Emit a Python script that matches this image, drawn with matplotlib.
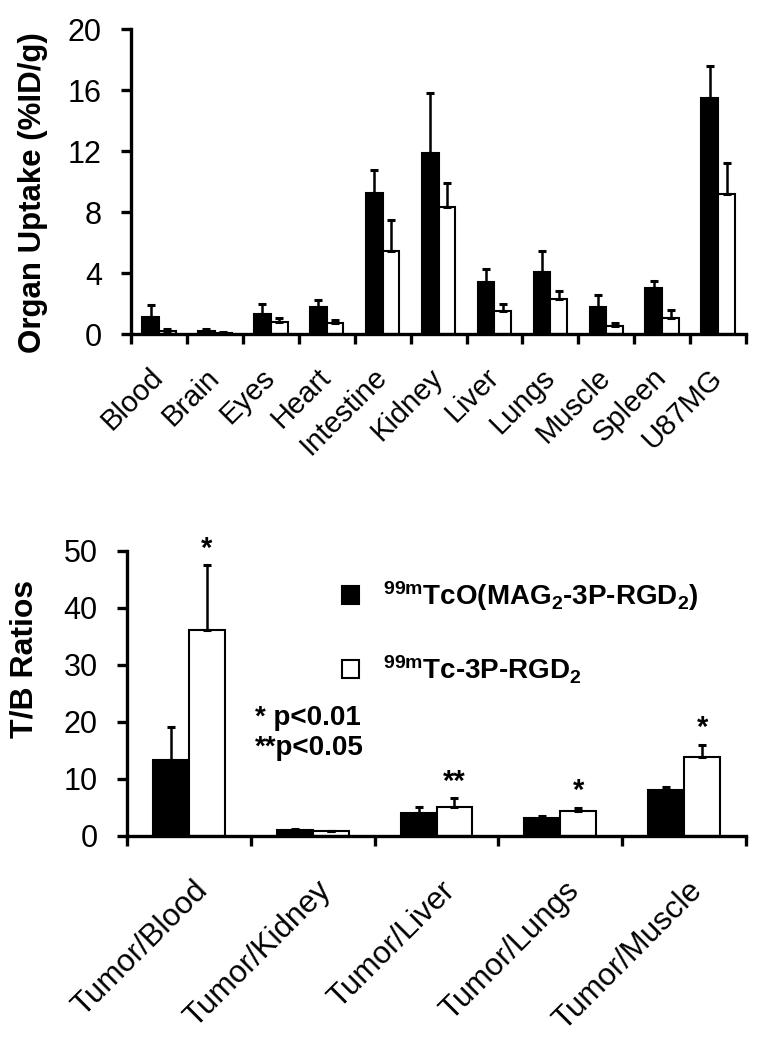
import matplotlib
matplotlib.use("Agg")
import matplotlib.pyplot as plt
import matplotlib.transforms as mtransforms
import numpy as np

plt.rcParams["font.family"] = ["Liberation Sans", "DejaVu Sans"]
plt.rcParams["mathtext.fontset"] = "custom"
plt.rcParams["mathtext.rm"] = "Liberation Sans:bold"
plt.rcParams["mathtext.bf"] = "Liberation Sans:bold"
plt.rcParams["mathtext.it"] = "Liberation Sans:bold"
plt.rcParams["mathtext.default"] = "bf"

# Organ biodistribution (%ID/g)
organs = ["Blood", "Brain", "Eyes", "Heart", "Intestine", "Kidney",
          "Liver", "Lungs", "Muscle", "Spleen", "U87MG"]
mag2_uptake = [1.1, 0.2, 1.3, 1.8, 9.25, 11.85, 3.4, 4.1, 1.75, 3.0, 15.45]
mag2_uptake_sd = [0.8, 0.1, 0.7, 0.4, 1.5, 3.95, 0.85, 1.35, 0.8, 0.5, 2.15]
p3_uptake = [0.2, 0.1, 0.8, 0.75, 5.45, 8.3, 1.5, 2.3, 0.55, 1.05, 9.2]
p3_uptake_sd = [0.1, 0.05, 0.25, 0.15, 2.0, 1.6, 0.5, 0.5, 0.2, 0.5, 2.0]

# Tumor/background ratios
ratios = ["Tumor/Blood", "Tumor/Kidney", "Tumor/Liver", "Tumor/Lungs", "Tumor/Muscle"]
mag2_ratio = [13.3, 1.0, 4.1, 3.1, 8.0]
mag2_ratio_sd = [5.8, 0.25, 0.9, 0.45, 0.6]
p3_ratio = [36.1, 0.8, 5.0, 4.3, 13.9]
p3_ratio_sd = [11.4, 0.1, 1.6, 0.6, 2.1]
ratio_marks = ["*", "", "**", "*", "*"]

legend_labels = [r"$^{99m}$TcO(MAG$_2$-3P-RGD$_2$)", r"$^{99m}$Tc-3P-RGD$_2$"]

fig = plt.figure(figsize=(7.59, 10.39), dpi=100)
ax1 = fig.add_axes([0.1726, 0.6785, 0.8104, 0.2935])
ax2 = fig.add_axes([0.1673, 0.1954, 0.8157, 0.2743])

err_kw = dict(capsize=3, capthick=2.2, elinewidth=1.8, ecolor="black")


def style_axes(ax):
    for side in ["top", "right"]:
        ax.spines[side].set_visible(False)
    for side in ["left", "bottom"]:
        ax.spines[side].set_linewidth(2.4)
    ax.tick_params(axis="both", which="major", direction="out", length=7,
                   width=2.4, labelsize=22)
    ax.tick_params(axis="y", pad=14)


# ---- top panel ----
n = len(organs)
x = np.arange(n) + 0.5
w = 0.3
lo = np.zeros(n)
ax1.bar(x - w / 2, mag2_uptake, w, color="black", edgecolor="black", linewidth=1.5,
        yerr=[lo, mag2_uptake_sd], error_kw=err_kw)
ax1.bar(x + w / 2, p3_uptake, w, color="white", edgecolor="black", linewidth=1.5,
        yerr=[lo, p3_uptake_sd], error_kw=err_kw)
ax1.set_xlim(0, n)
ax1.set_ylim(0, 20)
ax1.set_yticks([0, 4, 8, 12, 16, 20])
ax1.set_xticks(np.arange(n + 1))
ax1.set_xticklabels([])
ax1.set_xticks(x, minor=True)
ax1.set_xticklabels(organs, minor=True, rotation=45, ha="right", va="center",
                    rotation_mode="anchor")
style_axes(ax1)
ax1.tick_params(axis="x", which="minor", length=0, labelsize=21, pad=28)
ax1.text(-0.16, 0.465, "Organ Uptake (%ID/g)", transform=ax1.transAxes, rotation=90,
         ha="center", va="center", fontsize=22.5, fontweight="bold")

# ---- bottom panel ----
m = len(ratios)
x2 = np.arange(m) + 0.5
w2 = 0.29
lo2 = np.zeros(m)
b1 = ax2.bar(x2 - w2 / 2, mag2_ratio, w2, color="black", edgecolor="black", linewidth=1.5,
             yerr=[lo2, mag2_ratio_sd], error_kw=err_kw)
b2 = ax2.bar(x2 + w2 / 2, p3_ratio, w2, color="white", edgecolor="black", linewidth=1.5,
             yerr=[lo2, p3_ratio_sd], error_kw=err_kw)
for xi, v, sd, mk in zip(x2 + w2 / 2, p3_ratio, p3_ratio_sd, ratio_marks):
    if mk:
        ax2.annotate(mk, (xi, v + sd), xytext=(0, 2), textcoords="offset points",
                     ha="center", va="bottom", fontsize=21, fontweight="bold")
ax2.set_xlim(0, m)
ax2.set_ylim(0, 50)
ax2.set_yticks([0, 10, 20, 30, 40, 50])
ax2.set_xticks(np.arange(m + 1))
ax2.set_xticklabels([])
ax2.set_xticks(x2, minor=True)
ax2.set_xticklabels(ratios, minor=True, rotation=45, ha="right", va="center",
                    rotation_mode="anchor")
style_axes(ax2)
ax2.tick_params(axis="x", which="minor", length=0, labelsize=22.5, pad=36)
shift = mtransforms.ScaledTranslation(10 / 72, 0, fig.dpi_scale_trans)
for lab in ax2.get_xticklabels(minor=True):
    lab.set_transform(lab.get_transform() + shift)
ax2.text(-0.166, 0.62, "T/B Ratios", transform=ax2.transAxes, rotation=90,
         ha="center", va="center", fontsize=23, fontweight="bold")

ax2.text(0.207, 0.414, "* p<0.01", transform=ax2.transAxes, fontsize=20,
         fontweight="bold", va="center", ha="left")
ax2.text(0.207, 0.309, "**p<0.05", transform=ax2.transAxes, fontsize=20,
         fontweight="bold", va="center", ha="left")

ax2.legend([b1, b2], legend_labels, loc="upper left", bbox_to_anchor=(0.33, 0.94),
           frameon=False, prop={"size": 20, "weight": "bold"}, handlelength=0.6,
           handleheight=0.6, handletextpad=0.85, labelspacing=1.45, borderaxespad=0)

fig.savefig("out.png", dpi=100)
